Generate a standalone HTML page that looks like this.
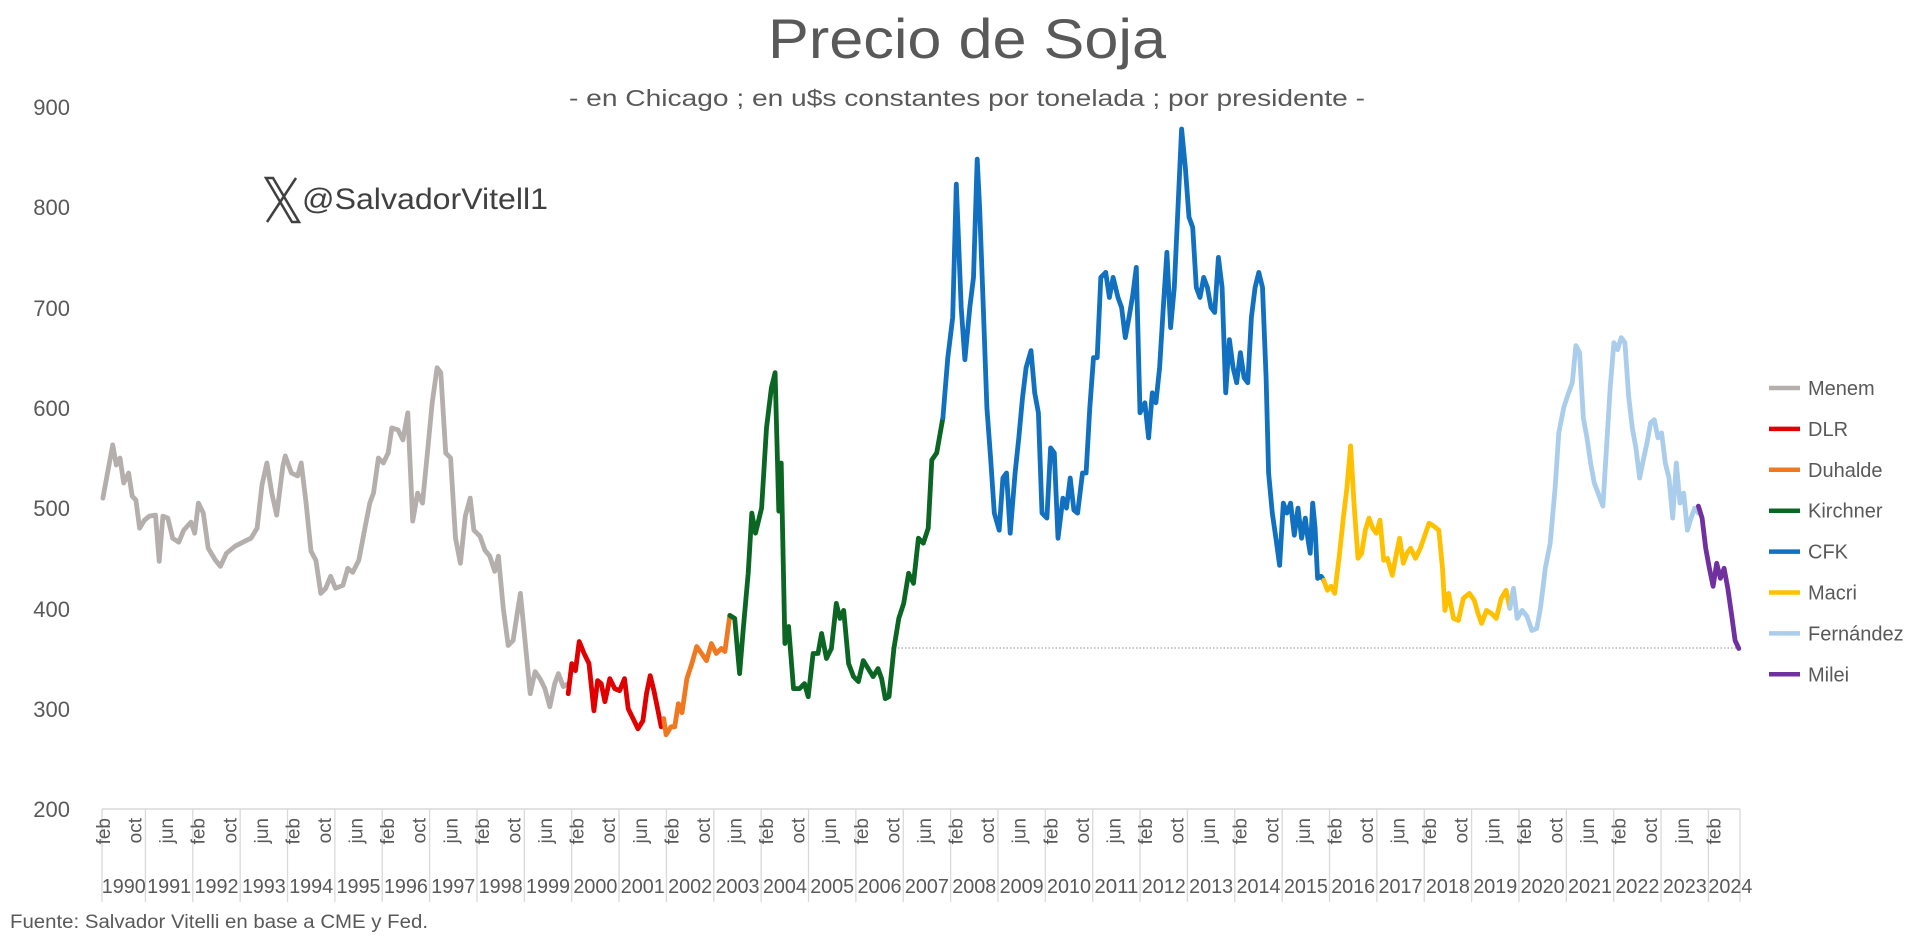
<!DOCTYPE html>
<html><head><meta charset="utf-8"><style>
html,body{margin:0;padding:0;background:#fff;}
svg{display:block;font-family:"Liberation Sans",sans-serif;}
</style></head><body>
<svg id="s" width="1920" height="941" viewBox="0 0 1920 941" xmlns="http://www.w3.org/2000/svg">
<rect width="1920" height="941" fill="#fff"/>
<text x="967" y="58" font-size="56" fill="#595959" text-anchor="middle" textLength="398" lengthAdjust="spacingAndGlyphs">Precio de Soja</text>
<text x="967" y="106" font-size="23" fill="#595959" text-anchor="middle" textLength="796" lengthAdjust="spacingAndGlyphs">- en Chicago ; en u$s constantes por tonelada ; por presidente -</text>
<g fill="#595959" font-size="22" text-anchor="end">
<text x="70" y="115">900</text><text x="70" y="215">800</text><text x="70" y="316">700</text>
<text x="70" y="416">600</text><text x="70" y="516">500</text><text x="70" y="617">400</text>
<text x="70" y="717">300</text><text x="70" y="817">200</text>
</g>
<g stroke="#404040" stroke-width="2.5" fill="none">
<path d="M266 178 L292 222 L299 222 L273 178 Z"/>
<path d="M296 178 L267 222"/>
</g>
<text x="302" y="209" font-size="30" fill="#404040" textLength="246" lengthAdjust="spacingAndGlyphs">@SalvadorVitell1</text>
<line x1="891" y1="648" x2="1740" y2="648" stroke="#a6a6a6" stroke-width="1.3" stroke-dasharray="1.5 2"/>
<g id="axis"></g>
<g id="lines" fill="none" stroke-width="4.8" stroke-linejoin="round" stroke-linecap="round"></g>
<g id="legend" font-size="20" fill="#595959"></g>
<text x="10" y="928" font-size="19" fill="#595959" textLength="418" lengthAdjust="spacingAndGlyphs">Fuente: Salvador Vitelli en base a CME y Fed.</text>
</svg>
<script>
var NS="http://www.w3.org/2000/svg";
function el(t,a,p,txt){var e=document.createElementNS(NS,t);for(var k in a)e.setAttribute(k,a[k]);if(txt!=null)e.textContent=txt;p.appendChild(e);return e;}
var ax=document.getElementById('axis');
var x0=102,x1=1740,n=415,w=(x1-x0)/n;
el('line',{x1:x0,y1:809,x2:x1,y2:809,stroke:'#d9d9d9','stroke-width':1.5},ax);
var bounds=[x0];for(var k=0;k<=33;k++)bounds.push(x0+(11+k*12)*w);bounds.push(x1);
bounds.forEach(function(b){el('line',{x1:b,y1:809,x2:b,y2:902,stroke:'#d9d9d9','stroke-width':1.3},ax);});
var ml=['feb','oct','jun'];
for(var i=0,j=0;i<=408;i+=8,j++){var cx=x0+(i+0.5)*w+6;
el('text',{x:0,y:0,transform:'translate('+cx+',818) rotate(-90)','text-anchor':'end','font-size':19,fill:'#595959'},ax,ml[j%3]);}
for(var y=1990;y<=2024;y++){var a=bounds[y-1990],b=bounds[y-1989];
el('text',{x:(y==2024?a+22:(a+b)/2),y:893,'text-anchor':'middle','font-size':20,fill:'#595959',textLength:44,lengthAdjust:'spacingAndGlyphs'},ax,String(y));}
var S=[
['Menem','#b4aeac',[[84,510],[92,563],[95,543],[98,550],[101,525],[105,535],[108,512],[111,508],[114,480],[118,488],[122,492],[127,493],[130,447],[133,492],[137,490],[141,470],[146,466],[150,478],[156,486],[159,475],[162,505],[166,495],[170,460],[176,448],[180,442],[185,455],[192,462],[200,467],[205,470],[210,480],[214,523],[218,545],[222,515],[226,493],[231,542],[233,552],[238,535],[243,532],[246,545],[250,505],[254,457],[258,448],[262,415],[266,420],[270,432],[274,420],[280,423],[284,440],[288,436],[293,448],[298,480],[302,505],[305,515],[309,550],[313,545],[317,555],[320,580],[325,578],[329,568],[333,595],[337,487],[341,515],[345,505],[349,555],[353,605],[357,640],[360,635],[364,555],[368,550],[372,470],[376,445],[380,492],[384,510],[387,478],[392,472],[396,458],[400,452],[404,437],[407,452],[411,400],[415,363],[419,368],[423,400],[425,415],[429,365],[433,315],[437,337],[441,330],[445,320],[449,302],[453,325],[456,335],[460,322],[464,325]]],
['DLR','#e00000',[[464,315],[467,345],[470,338],[473,367],[477,355],[481,345],[485,298],[488,328],[491,325],[494,307],[498,330],[502,320],[506,318],[510,330],[513,300],[517,290],[521,280],[525,288],[528,315],[531,333],[534,318],[537,300],[540,282],[542,290]]],
['Duhalde','#f07820',[[542,290],[544,274],[548,282],[551,282],[554,305],[557,296],[561,330],[565,345],[569,362],[573,355],[577,348],[581,365],[585,355],[589,360],[592,357],[596,393]]],
['Kirchner','#0b6623',[[596,393],[600,390],[604,335],[607,380],[611,435],[614,495],[617,475],[622,500],[626,580],[630,620],[633,635],[636,497],[638,545],[641,365],[644,382],[648,320],[653,320],[657,325],[660,312],[664,355],[668,355],[671,375],[675,350],[679,360],[683,405],[686,390],[689,398],[693,345],[697,332],[701,327],[705,348],[709,340],[713,332],[717,340],[720,330],[723,310],[726,312],[730,360],[734,390],[738,405],[742,435],[746,425],[750,470],[754,465],[758,480],[761,548],[765,555],[770,590]]],
['CFK','#1170c0',[[770,590],[774,650],[778,690],[781,823],[785,700],[788,648],[792,700],[795,730],[798,848],[800,800],[803,700],[806,600],[809,550],[812,495],[816,478],[819,530],[822,535],[825,475],[829,535],[832,570],[835,610],[838,640],[842,657],[845,615],[848,595],[851,495],[855,490],[858,560],[861,555],[864,470],[868,510],[871,500],[874,530],[877,498],[880,495],[884,535],[887,535],[890,600],[893,650],[896,650],[899,730],[903,735],[906,710],[909,730],[913,710],[916,700],[919,670],[922,690],[925,712],[928,740],[931,595],[935,605],[938,570],[941,615],[944,605],[947,640],[950,700],[953,755],[956,680],[959,720],[962,800],[965,878],[968,840],[971,790],[974,780],[977,720],[980,710],[983,730],[986,720],[989,700],[992,695],[995,750],[998,720],[1001,615],[1004,668],[1007,640],[1010,625],[1013,655],[1016,630],[1019,625],[1022,690],[1025,720],[1028,735],[1031,720],[1034,630],[1036,535],[1039,495],[1042,470],[1045,443],[1048,505],[1051,495],[1054,505],[1057,473],[1060,500],[1063,470],[1066,490],[1068,470],[1070,455],[1072,505],[1074,480],[1076,430],[1079,432],[1081,428]]],
['Macri','#ffc000',[[1081,428],[1084,418],[1087,422],[1090,415],[1094,455],[1097,490],[1100,520],[1103,562],[1106,500],[1109,450],[1112,455],[1115,478],[1118,490],[1121,480],[1124,475],[1127,488],[1130,448],[1133,450],[1137,433],[1140,452],[1143,470],[1146,445],[1149,455],[1152,460],[1156,450],[1160,460],[1167,485],[1171,482],[1175,478],[1178,440],[1180,398],[1183,415],[1187,390],[1191,388],[1195,410],[1200,415],[1204,408],[1207,395],[1210,385],[1214,398],[1218,395],[1222,390],[1226,410],[1230,418],[1233,400]]],
['Fernández','#a9cdeb',[[1233,400],[1236,420],[1239,390],[1243,398],[1247,392],[1251,378],[1255,380],[1258,400],[1262,440],[1266,465],[1270,520],[1273,575],[1277,600],[1281,615],[1284,625],[1287,662],[1290,655],[1293,590],[1296,570],[1299,545],[1302,525],[1306,512],[1309,502],[1312,560],[1315,620],[1318,665],[1321,658],[1324,670],[1327,665],[1330,612],[1333,580],[1336,560],[1339,530],[1342,548],[1345,565],[1348,585],[1351,588],[1354,570],[1357,575],[1360,545],[1363,530],[1366,490],[1369,545],[1372,505],[1375,515],[1378,478],[1381,490],[1384,500],[1387,495]]],
['Milei','#7030a0',[[1387,502],[1390,490],[1393,460],[1396,440],[1399,422],[1402,445],[1405,430],[1408,440],[1411,420],[1414,395],[1417,368],[1420,360]]]
];
var lg=document.getElementById('lines'),leg=document.getElementById('legend');
S.forEach(function(s,k){
 var pts=s[2].map(function(p){return (p[0]*1.2245).toFixed(1)+','+(809-(p[1]-200)*1.003).toFixed(1);}).join(' ');
 el('polyline',{points:pts,stroke:s[1]},lg);
 var yy=388+k*40.9;
 el('line',{x1:1769,y1:yy,x2:1800,y2:yy,stroke:s[1],'stroke-width':4.5},leg);
 el('text',{x:1808,y:yy+7},leg,s[0]);
});
</script>
</body></html>
